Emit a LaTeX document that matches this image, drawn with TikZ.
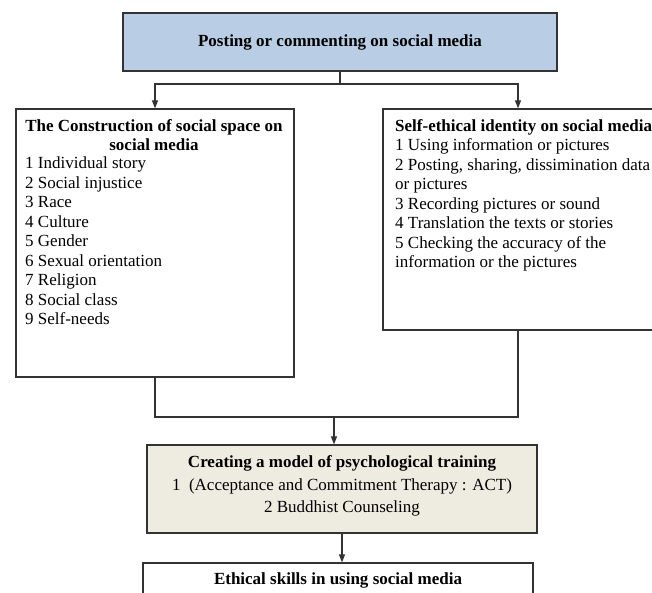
\documentclass[tikz,border=0pt]{standalone}
\usepackage{fontspec}
\setmainfont{Liberation Serif}
\usepackage{tikz}
\usetikzlibrary{positioning,arrows.meta}
\definecolor{postblue}{HTML}{B9CDE5}
\definecolor{trainbeige}{HTML}{EEECE1}
\definecolor{edgegray}{HTML}{333333}

\begin{document}
\begin{tikzpicture}[
  x=1pt, y=-1pt,
  every node/.style={font=\fontsize{17}{19.5}\selectfont, inner sep=0pt},
  boxframe/.style={draw=edgegray, line width=1.3pt},
  link/.style={draw=edgegray, line width=1.2pt},
  arrow/.style={link, -{Triangle[length=8pt,width=6pt]}},
]
  \useasboundingbox (0,0) rectangle (652,593);
  \clip (0,0) rectangle (652,593);

  \node[boxframe, fill=postblue, minimum width=434pt, minimum height=58pt]
    (post) at (340,42) {\raisebox{-3pt}{\textbf{Posting or commenting on social media}}};

  \node[boxframe, fill=white, minimum width=278pt, minimum height=268pt]
    (space) at (155,243) {};
  \node[align=center, anchor=north] (spacetitle) at (154,119)
    {\textbf{The Construction of social space on}\\\textbf{social media}};
  \node[align=left, anchor=north west] (spacelist) at (25,157)
    {1 Individual story\\2 Social injustice\\3 Race\\4 Culture\\5 Gender\\
     6 Sexual orientation\\7 Religion\\8 Social class\\9 Self-needs};

  \node[boxframe, fill=white, minimum width=270pt, minimum height=221pt]
    (ident) at (518,219.5) {};
  \node[align=left, anchor=north west] (identlist) at (395,119)
    {\textbf{Self-ethical identity on social media}\\
     1 Using information or pictures\\
     2 Posting, sharing, dissimination data\\or pictures\\
     3 Recording pictures or sound\\
     4 Translation the texts or stories\\
     5 Checking the accuracy of the\\information or the pictures};

  \node[boxframe, fill=trainbeige, minimum width=390pt, minimum height=88pt]
    (train) at (342,489) {};
  \node[align=center, font=\fontsize{17}{22.5}\selectfont] (traintext) at (342,486)
    {\textbf{Creating a model of psychological training}\\
     1~~(Acceptance and Commitment Therapy : ACT)\\
     2 Buddhist Counseling};

  \node[boxframe, fill=white, minimum width=390pt, minimum height=34pt]
    (ethic) at (338,580) {\raisebox{-2pt}{\textbf{Ethical skills in using social media}}};

  \coordinate (fork) at (340,84);
  \coordinate (join) at (334,417);

  \draw[link] (post) -- (fork);
  \draw[arrow] (fork) -| (space);
  \draw[arrow] (fork) -| (ident);
  \draw[link] (space.south) |- (join) -- (ident.south |- join) -- (ident.south);
  \draw[arrow] (join) -- (join |- train.north);
  \draw[arrow] (train.south) -- (train.south |- ethic.north);
\end{tikzpicture}
\end{document}
